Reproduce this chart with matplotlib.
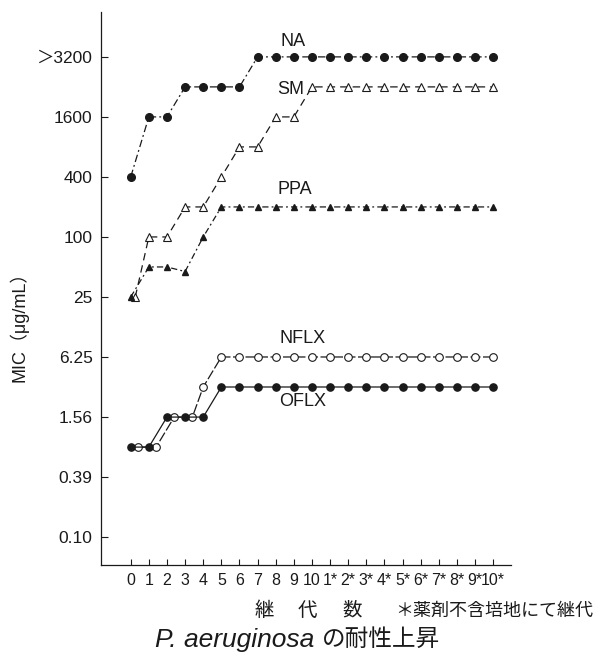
import matplotlib
matplotlib.use("Agg")
import matplotlib.pyplot as plt
from matplotlib.ticker import NullLocator

plt.rcParams['font.family'] = ['Liberation Sans', 'Noto Sans CJK JP']

# passages (継代数); 1*..10* = passaged on drug-free medium
passages = [0, 1, 2, 3, 4, 5, 6, 7, 8, 9, 10, 11, 12, 13, 14, 15, 16, 17, 18, 19, 20]
xtick_labels = ['0', '1', '2', '3', '4', '5', '6', '7', '8', '9', '10',
                '1*', '2*', '3*', '4*', '5*', '6*', '7*', '8*', '9*', '10*']

# MIC values (ug/mL); 6400 stands for ">3200"
na = [400, 1600, 1600, 3200, 3200, 3200, 3200, 6400, 6400, 6400, 6400,
      6400, 6400, 6400, 6400, 6400, 6400, 6400, 6400, 6400, 6400]
sm = [25, 100, 100, 200, 200, 400, 800, 800, 1600, 1600, 3200,
      3200, 3200, 3200, 3200, 3200, 3200, 3200, 3200, 3200, 3200]
ppa = [25, 50, 50, 45, 100, 200, 200, 200, 200, 200, 200,
       200, 200, 200, 200, 200, 200, 200, 200, 200, 200]
nflx = [0.78, 0.78, 1.56, 1.56, 3.125, 6.25, 6.25, 6.25, 6.25, 6.25, 6.25,
        6.25, 6.25, 6.25, 6.25, 6.25, 6.25, 6.25, 6.25, 6.25, 6.25]
oflx = [0.78, 0.78, 1.56, 1.56, 1.56, 3.125, 3.125, 3.125, 3.125, 3.125, 3.125,
        3.125, 3.125, 3.125, 3.125, 3.125, 3.125, 3.125, 3.125, 3.125, 3.125]

ytick_vals = [6400, 1600, 400, 100, 25, 6.25, 1.5625, 0.390625, 0.09765625]
ytick_labels = ['＞3200', '1600', '400', '100', '25', '6.25', '1.56', '0.39', '0.10']

c = '#1a1a1a'

fig = plt.figure(figsize=(5.99, 6.70), dpi=100)
ax = fig.add_axes([101 / 599, 1 - 565 / 670, 410 / 599, 553 / 670])

# overlapping points are drawn slightly to the right, as in the original
sm_x = [p + 0.25 if p == 0 else p for p in passages]
nflx_x = [p + 0.4 if p < 4 else p for p in passages]

ax.plot(passages, na, color=c, lw=0.9, linestyle=(0, (6, 2.5, 1.5, 2.5)),
        marker='o', ms=5.5, mfc=c, mec=c)
ax.plot(sm_x, sm, color=c, lw=0.9, linestyle=(0, (6, 4)),
        marker='^', ms=5.5, mfc='white', mec=c, mew=0.8)
ax.plot(passages, ppa, color=c, lw=0.9, linestyle=(0, (5, 2.5, 1.5, 2.5)),
        marker='^', ms=3.8, mfc=c, mec=c)
ax.plot(nflx_x, nflx, color=c, lw=0.9, linestyle=(0, (8, 2)),
        marker='o', ms=5.5, mfc='white', mec=c, mew=0.8)
ax.plot(passages, oflx, color=c, lw=0.9, linestyle='-',
        marker='o', ms=5.2, mfc=c, mec=c)

ax.set_yscale('log', base=2)
ax.set_ylim(0.0512, 18050)
ax.set_xlim(-1.64, 20.98)
ax.set_yticks(ytick_vals, ytick_labels)
ax.yaxis.set_minor_locator(NullLocator())
ax.set_xticks(passages, xtick_labels)

for s in ['top', 'right']:
    ax.spines[s].set_visible(False)
for s in ['left', 'bottom']:
    ax.spines[s].set_linewidth(0.9)
    ax.spines[s].set_color(c)

ax.tick_params(axis='y', direction='in', length=5, width=0.8, pad=6,
               labelsize=12.5, colors=c)
ax.tick_params(axis='x', direction='in', length=4, width=0.8, pad=6,
               labelsize=11.5, colors=c)

# series names
names = ['NA', 'SM', 'PPA', 'NFLX', 'OFLX']
name_pos = [(293, 41), (291, 90), (295, 190), (303, 339), (303, 402)]
for n, (px, py) in zip(names, name_pos):
    fig.text(px / 599, 1 - py / 670, n, ha='center', va='center',
             fontsize=13, color=c)

fig.text(19 / 599, 1 - 322 / 670, 'MIC（μg/mL）', rotation=90,
         ha='center', va='center', fontsize=13, color=c)

# x axis label, spaced out characters
for ch, px in zip(['継', '代', '数'], [264, 307, 352]):
    fig.text(px / 599, 1 - 611 / 670, ch, ha='center', va='center',
             fontsize=14, color=c)
fig.text(395 / 599, 1 - 611 / 670, '＊薬剤不含培地にて継代', ha='left',
         va='center', fontsize=13, color=c)

# title: italic species name followed by the Japanese part
t1 = fig.text(155 / 599, 1 - 640 / 670, 'P. aeruginosa', ha='left', va='center',
              fontsize=19, style='italic', color=c)
fig.canvas.draw()
bb = t1.get_window_extent()
fig.text((bb.x1 + 8) / 599, 1 - 640 / 670, 'の耐性上昇', ha='left', va='center',
         fontsize=17, color=c)

fig.savefig('out.png', dpi=100)
